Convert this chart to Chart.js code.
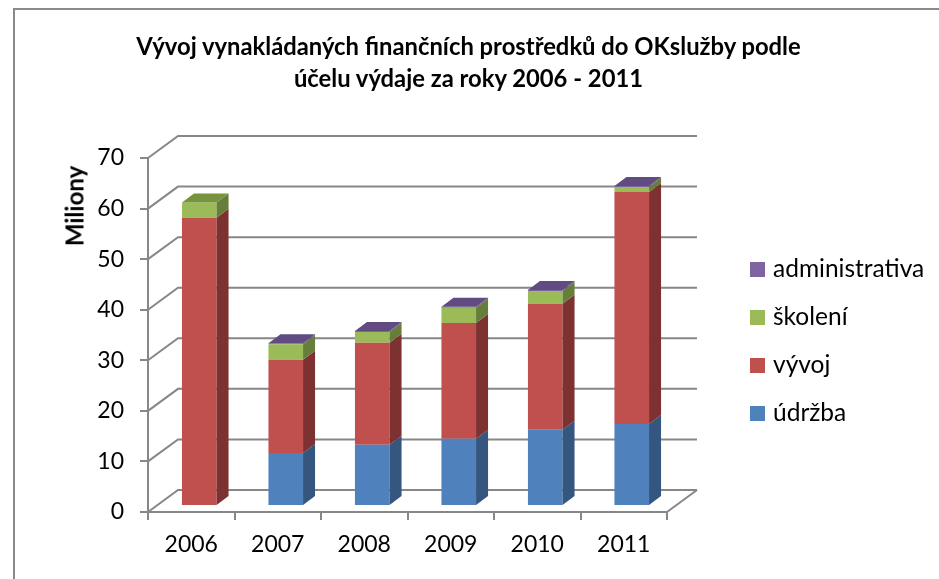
<!DOCTYPE html>
<html>
<head>
<meta charset="utf-8">
<script src="https://cdn.jsdelivr.net/npm/chart.js"></script>
<style>
body{margin:0;background:#fff;font-family:Lato,"Open Sans",sans-serif;color:#000;}
#wrap{position:relative;width:939px;height:579px;overflow:hidden;}
#frame{position:absolute;left:13px;top:8px;width:1000px;height:700px;border-left:2px solid #898989;border-top:2px solid #898989;}
#title{position:absolute;left:0;top:30px;width:937px;text-align:center;font-weight:bold;font-size:23.8px;line-height:32px;}
#ylabel{position:absolute;left:74px;top:206px;transform:translate(-50%,-50%) rotate(-90deg);font-weight:bold;font-size:24px;white-space:nowrap;}
.leg{position:absolute;left:750px;font-size:24.5px;line-height:26px;white-space:nowrap;}
.leg span{position:absolute;left:0;width:15px;height:15px;}
.leg b{position:absolute;left:23px;font-weight:normal;}
canvas{position:absolute;left:0;top:0;}
</style>
</head>
<body>
<div id="wrap">
	<div id="frame"></div>
	<canvas id="chart" width="939" height="579"></canvas>
	<div id="title">Vývoj vynakládaných finančních prostředků do OKslužby podle<br>účelu výdaje za roky 2006 - 2011</div>
	<div id="ylabel">Miliony</div>
	<div id="legend"></div>
</div>
<script>
// data (millions)
const years = ['2006', '2007', '2008', '2009', '2010', '2011'];
const udrzba = [0, 10.5, 12.1, 13.3, 15.1, 16.2];
const vyvoj = [57, 18.4, 20.2, 22.9, 24.9, 45.9];
const skoleni = [3, 3.1, 2.1, 3, 2.5, 1];
const administrativa = [0, 0.2, 0.2, 0.2, 0.2, 0.2];
const yTicks = [0, 10, 20, 30, 40, 50, 60, 70];

const names = ['údržba', 'vývoj', 'školení', 'administrativa'];
const frontColors = ['#4F81BD', '#C0504D', '#9BBB59', '#8064A2'];
const sideColors = ['#34567F', '#7D3130', '#677E3A', '#5D4979'];
const topColors = ['#3F6797', '#9A3E3C', '#77933C', '#614C81'];

// 3d offsets
const wallX = 30, wallY = 22;   // back wall
const barX = 8, barY = 6;       // front plane of bars
const sideX = 12, sideY = 9;    // bar depth

const fake3d = {
	id: 'fake3d',
	beforeDatasetsDraw(chart) {
		const {ctx, chartArea: a, scales: {y}} = chart;
		ctx.save();
		ctx.strokeStyle = '#878787';
		ctx.lineWidth = 2;
		yTicks.forEach(v => {
			const py = y.getPixelForValue(v);
			ctx.beginPath();
			ctx.moveTo(a.left, py);
			ctx.lineTo(a.left + wallX, py - wallY);
			ctx.lineTo(a.right + wallX, py - wallY);
			ctx.stroke();
		});
		const y0 = y.getPixelForValue(0);
		ctx.beginPath();
		ctx.moveTo(a.right, y0);
		ctx.lineTo(a.right + wallX, y0 - wallY);
		ctx.stroke();
		ctx.restore();
		// bars sit a bit behind the front axis
		ctx.save();
		ctx.translate(barX, -barY);
	},
	afterDatasetsDraw(chart) {
		const ctx = chart.ctx;
		const sets = chart.data.datasets;
		sets.forEach((ds, i) => {
			chart.getDatasetMeta(i).data.forEach((bar, j) => {
				if (!ds.data[j]) return;
				const p = bar.getProps(['x', 'y', 'base', 'width'], true);
				const l = p.x - p.width / 2, r = p.x + p.width / 2;
				ctx.fillStyle = sideColors[i];
				ctx.beginPath();
				ctx.moveTo(r, p.y);
				ctx.lineTo(r + sideX, p.y - sideY);
				ctx.lineTo(r + sideX, p.base - sideY);
				ctx.lineTo(r, p.base);
				ctx.closePath();
				ctx.fill();
				let top = -1;
				sets.forEach((d, k) => { if (d.data[j] > 0) top = k; });
				if (top === i) {
					ctx.fillStyle = topColors[i];
					ctx.beginPath();
					ctx.moveTo(l, p.y);
					ctx.lineTo(l + sideX, p.y - sideY);
					ctx.lineTo(r + sideX, p.y - sideY);
					ctx.lineTo(r, p.y);
					ctx.closePath();
					ctx.fill();
				}
			});
		});
		ctx.restore();
	}
};

new Chart(document.getElementById('chart'), {
	type: 'bar',
	data: {
		labels: years,
		datasets: [udrzba, vyvoj, skoleni, administrativa].map((d, i) => ({
			label: names[i],
			data: d,
			backgroundColor: frontColors[i],
			borderWidth: 0,
			barPercentage: 0.4,
			categoryPercentage: 1
		}))
	},
	options: {
		responsive: false,
		animation: false,
		layout: {padding: {left: 0, right: 272, top: 158, bottom: 0}},
		plugins: {legend: {display: false}, tooltip: {enabled: false}},
		scales: {
			x: {
				stacked: true,
				afterFit: s => { s.height = 67; },
				grid: {offset: true, drawOnChartArea: false, tickLength: 8, color: '#878787', lineWidth: 2},
				border: {color: '#878787', width: 2},
				ticks: {color: '#000', padding: 11, font: {family: 'Lato', size: 23}}
			},
			y: {
				stacked: true,
				min: 0,
				max: 70,
				afterFit: s => { s.width = 148; },
				afterBuildTicks: s => { s.ticks = yTicks.map(v => ({value: v})); },
				grid: {drawOnChartArea: false, tickLength: 8, color: '#878787', lineWidth: 2},
				border: {color: '#878787', width: 2},
				ticks: {color: '#000', padding: 16, font: {family: 'Lato', size: 23}}
			}
		}
	},
	plugins: [fake3d]
});

// legend, reversed like the original
const legend = document.getElementById('legend');
[3, 2, 1, 0].forEach((i, row) => {
	const base = 277 + row * 48;
	legend.insertAdjacentHTML('beforeend',
		`<div class="leg" style="top:${base - 15}px"><span style="background:${frontColors[i]}"></span><b style="top:-7px">${names[i]}</b></div>`);
});
</script>
</body>
</html>
